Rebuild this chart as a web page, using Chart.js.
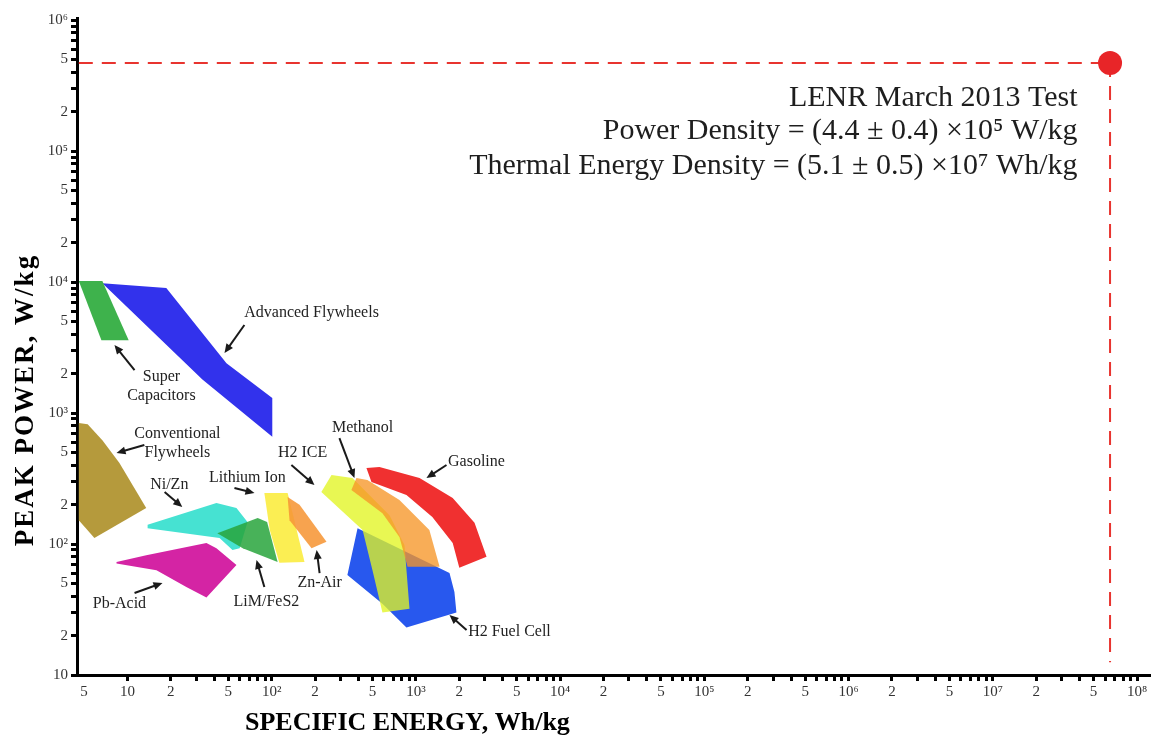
<!DOCTYPE html>
<html><head><meta charset="utf-8">
<script src="https://cdn.jsdelivr.net/npm/chart.js@4.4.1/dist/chart.umd.min.js"></script>
<style>html,body{margin:0;padding:0;background:#fff}canvas{display:block}</style>
</head><body>
<canvas id="c" width="1173" height="736"></canvas>
<script>
// ---- data (specific energy Wh/kg, peak power W/kg) ----
const superCapacitors   = [[4.6,1.02e4],[6.7,1.02e4],[10.2,3.6e3],[6.6,3.6e3]];
const advancedFlywheels = [[6.7,9.8e3],[18.6,9.0e3],[48.6,2.4e3],[101,1.3e3],[101,660],[33.1,1.8e3]];
const convFlywheels     = [[4.6,840],[5.3,820],[6.7,620],[8.8,415],[13.5,188],[5.9,111],[4.6,152]];
const niZn              = [[13.8,140],[41.4,206],[57,188],[68,147],[60,93],[53.5,90],[43.5,111],[13.8,132]];
const pbAcid            = [[8.4,73],[13.5,82],[35.3,102],[41.4,93],[57,69],[35.3,39],[25.6,47],[15.9,63],[8.4,71]];
const limFeS2           = [[42,121],[80,158],[93,147],[110,73],[63,93]];
const lithiumIon        = [[89,245],[129,245],[169,73],[113,72],[97,128]];
const znAir             = [[129,228],[156,199],[240,104],[189,93],[133,152]];
const h2FuelCell        = [[394,132],[1710,60],[1850,43],[1910,30],[860,23],[586,35],[335,58]];
const h2ICE             = [[221,249],[260,336],[363,319],[656,166],[834,98],[903,32],[586,30],[500,63],[427,128]];
const methanol          = [[357,258],[387,319],[461,308],[769,217],[1240,128],[1460,67],[875,67],[769,113],[586,172]];
const gasoline          = [[454,380],[559,387],[1060,319],[1800,224],[2550,145],[3090,80],[2000,66],[1800,102],[1300,161],[860,237],[492,297]];
const lenrPoint         = [6.5e7, 4.7e5];

// ---- tick labels ----
const xTickLabelValues = [5,10,20,50,1e2,2e2,5e2,1e3,2e3,5e3,1e4,2e4,5e4,1e5,2e5,5e5,1e6,2e6,5e6,1e7,2e7,5e7,1e8];
const xTickLabelTexts  = ['5','10','2','5','10²','2','5','10³','2','5','10⁴','2','5','10⁵','2','5','10⁶','2','5','10⁷','2','5','10⁸'];
const yTickLabelValues = [10,20,50,1e2,2e2,5e2,1e3,2e3,5e3,1e4,2e4,5e4,1e5,2e5,5e5,1e6];
const yTickLabelTexts  = ['10','2','5','10²','2','5','10³','2','5','10⁴','2','5','10⁵','2','5','10⁶'];
const xDecades = [1,2,3,4,5,6,7];
const yDecades = [1,2,3,4,5];
const mantissas = [1,2,3,4,5,6,7,8,9];

// ---- annotation texts (anchored in data coordinates) ----
const regionLabels = [
  {lines:['Advanced Flywheels'], at:[189,5790]},
  {lines:['Super','Capacitors'], at:[17.2,1607]},
  {lines:['Conventional','Flywheels'], at:[22.2,590]},
  {lines:['Ni/Zn'], at:[19.5,282]},
  {lines:['Pb-Acid'], at:[8.8,34.8]},
  {lines:['LiM/FeS2'], at:[92,36.1]},
  {lines:['Lithium Ion'], at:[67.9,319]},
  {lines:['Zn-Air'], at:[215,50.4]},
  {lines:['H2 ICE'], at:[164,495]},
  {lines:['Methanol'], at:[427,768]},
  {lines:['Gasoline'], at:[2630,423]},
  {lines:['H2 Fuel Cell'], at:[4455,21.3]}
];
const arrows = [
  [[64.7,4700],[47.1,2870]],
  [[11.2,2128],[8.13,3300]],
  [[13.1,570],[8.4,495]],
  [[18.1,249],[24.0,192]],
  [[11.2,42.3],[17.5,50.4]],
  [[89,47],[78.5,75.5]],
  [[55.2,268],[76,245]],
  [[215,60],[205,90]],
  [[137,401],[198,282]],
  [[295,644],[375,319]],
  [[1630,401],[1184,319]],
  [[2245,22.1],[1710,28.7]]
];
const infoLines = ['LENR March 2013 Test','Power Density = (4.4 ± 0.4) ×10⁵ W/kg','Thermal Energy Density = (5.1 ± 0.5) ×10⁷ Wh/kg'];
const infoAnchorX = 3.87e7;
const infoAnchorY = [2.54e5, 1.42e5, 7.67e4];

// ---- build ticks ----
const xTicks = [5];
xDecades.forEach(d => mantissas.forEach(m => xTicks.push(m*Math.pow(10,d))));
xTicks.push(1e8);
const yTicks = [];
yDecades.forEach(d => mantissas.forEach(m => yTicks.push(m*Math.pow(10,d))));
yTicks.push(1e6);
const key = v => Math.round(Math.log10(v)*1000);
const xLab = new Map(xTickLabelValues.map((v,i)=>[key(v), xTickLabelTexts[i]]));
const yLab = new Map(yTickLabelValues.map((v,i)=>[key(v), yTickLabelTexts[i]]));

const SERIF = '"Liberation Serif","Times New Roman","DejaVu Serif",serif';

const regions = [
  ['H2 Fuel Cell', h2FuelCell, 'rgb(40,88,238)'],
  ['H2 ICE', h2ICE, 'rgba(225,245,35,0.78)'],
  ['Methanol', methanol, 'rgba(246,150,40,0.78)'],
  ['Gasoline', gasoline, 'rgb(240,48,48)'],
  ['Conventional Flywheels', convFlywheels, 'rgb(181,154,60)'],
  ['Pb-Acid', pbAcid, 'rgb(212,36,164)'],
  ['Ni/Zn', niZn, 'rgb(70,226,210)'],
  ['LiM/FeS2', limFeS2, 'rgba(40,165,60,0.85)'],
  ['Lithium Ion', lithiumIon, 'rgba(250,232,25,0.75)'],
  ['Zn-Air', znAir, 'rgba(246,150,55,0.88)'],
  ['Advanced Flywheels', advancedFlywheels, 'rgb(50,50,236)'],
  ['Super Capacitors', superCapacitors, 'rgb(62,178,76)']
];

const datasets = [];
regions.forEach(([name, pts, color]) => {
  const data = pts.map(p => ({x:p[0], y:p[1]}));
  data.push({x:pts[0][0], y:pts[0][1]});
  datasets.push({label:name, data, showLine:true, fill:'shape', backgroundColor:color,
    borderColor:'rgba(0,0,0,0)', borderWidth:1, pointRadius:0, tension:0});
});
datasets.push({label:'h-dash', data:[{x:4.6,y:lenrPoint[1]},{x:lenrPoint[0],y:lenrPoint[1]}], showLine:true,
  borderColor:'#e8342f', borderWidth:2, borderDash:[14,9], pointRadius:0, fill:false});
datasets.push({label:'v-dash', data:[{x:lenrPoint[0],y:lenrPoint[1]},{x:lenrPoint[0],y:12.5}], showLine:true,
  borderColor:'#e8342f', borderWidth:2, borderDash:[14,9], pointRadius:0, fill:false});
datasets.push({label:'LENR', data:[{x:lenrPoint[0],y:lenrPoint[1]}], pointRadius:12,
  backgroundColor:'#e82528', borderWidth:0, showLine:false});
const N = datasets.length;
datasets.forEach((d,i)=>{ d.order = N - i; });

function arrow(ctx, x1, y1, x2, y2) {
  const a = Math.atan2(y2-y1, x2-x1), h = 9, w = 4;
  ctx.beginPath(); ctx.moveTo(x1,y1); ctx.lineTo(x2 - Math.cos(a)*h*0.6, y2 - Math.sin(a)*h*0.6); ctx.stroke();
  ctx.beginPath(); ctx.moveTo(x2,y2);
  ctx.lineTo(x2 - Math.cos(a)*h + Math.sin(a)*w, y2 - Math.sin(a)*h - Math.cos(a)*w);
  ctx.lineTo(x2 - Math.cos(a)*h - Math.sin(a)*w, y2 - Math.sin(a)*h + Math.cos(a)*w);
  ctx.closePath(); ctx.fill();
}

const annot = {
  id:'annot',
  afterDraw(chart) {
    const {ctx} = chart, xs = chart.scales.x, ys = chart.scales.y;
    ctx.save();
    ctx.fillStyle = '#1a1a1a'; ctx.strokeStyle = '#1a1a1a'; ctx.lineWidth = 2;
    arrows.forEach(([a,b]) => arrow(ctx, xs.getPixelForValue(a[0]), ys.getPixelForValue(a[1]),
                                          xs.getPixelForValue(b[0]), ys.getPixelForValue(b[1])));
    ctx.font = '16px ' + SERIF; ctx.textAlign = 'center'; ctx.textBaseline = 'middle'; ctx.fillStyle = '#222';
    regionLabels.forEach(l => {
      const cx = xs.getPixelForValue(l.at[0]), cy = ys.getPixelForValue(l.at[1]);
      const lh = 19, y0 = cy - (l.lines.length-1)*lh/2;
      l.lines.forEach((t,i)=> ctx.fillText(t, cx, y0 + i*lh));
    });
    ctx.font = '30px ' + SERIF; ctx.textAlign = 'right'; ctx.fillStyle = '#1e1e1e';
    const ix = xs.getPixelForValue(infoAnchorX);
    infoLines.forEach((t,i)=> ctx.fillText(t, ix, ys.getPixelForValue(infoAnchorY[i])));
    // axis titles
    ctx.fillStyle = '#000'; ctx.font = 'bold 26px ' + SERIF;
    ctx.textAlign = 'left'; ctx.fillText('SPECIFIC ENERGY, Wh/kg', 245, 723);
    ctx.font = 'bold 27px ' + SERIF;
    if ('letterSpacing' in ctx) ctx.letterSpacing = '2px';
    ctx.translate(26, 400); ctx.rotate(-Math.PI/2); ctx.textAlign = 'center';
    ctx.fillText('PEAK POWER, W/kg', 0, 0);
    ctx.restore();
  }
};

new Chart(document.getElementById('c'), {
  type:'scatter',
  data:{datasets},
  plugins:[annot],
  options:{
    responsive:false, animation:false, events:[],
    layout:{padding:{top:18, right:23, left:0, bottom:0}},
    plugins:{legend:{display:false}, tooltip:{enabled:false}},
    scales:{
      x:{type:'logarithmic', min:4.47, max:1.23e8,
        afterBuildTicks:s=>{ s.ticks = xTicks.map(v=>({value:v})); },
        afterFit:s=>{ s.height = 61; },
        ticks:{autoSkip:false, maxRotation:0, minRotation:0, padding:2, color:'#333',
          font:{family:SERIF, size:15}, callback:v=> xLab.get(key(v)) || ''},
        grid:{drawOnChartArea:false, drawTicks:true, tickLength:6, tickWidth:3,
          tickColor:c=> (c.tick && c.tick.value===5) ? 'rgba(0,0,0,0)' : '#000'},
        border:{display:true, color:'#000', width:3}
      },
      y:{type:'logarithmic', min:10, max:1.036e6,
        afterBuildTicks:s=>{ s.ticks = yTicks.map(v=>({value:v})); },
        afterFit:s=>{ s.width = 77; },
        ticks:{autoSkip:false, padding:3, color:'#333',
          font:{family:SERIF, size:15}, callback:v=> yLab.get(key(v)) || ''},
        grid:{drawOnChartArea:false, drawTicks:true, tickLength:6, tickWidth:3, tickColor:'#000'},
        border:{display:true, color:'#000', width:3}
      }
    }
  }
});
</script>
</body></html>
